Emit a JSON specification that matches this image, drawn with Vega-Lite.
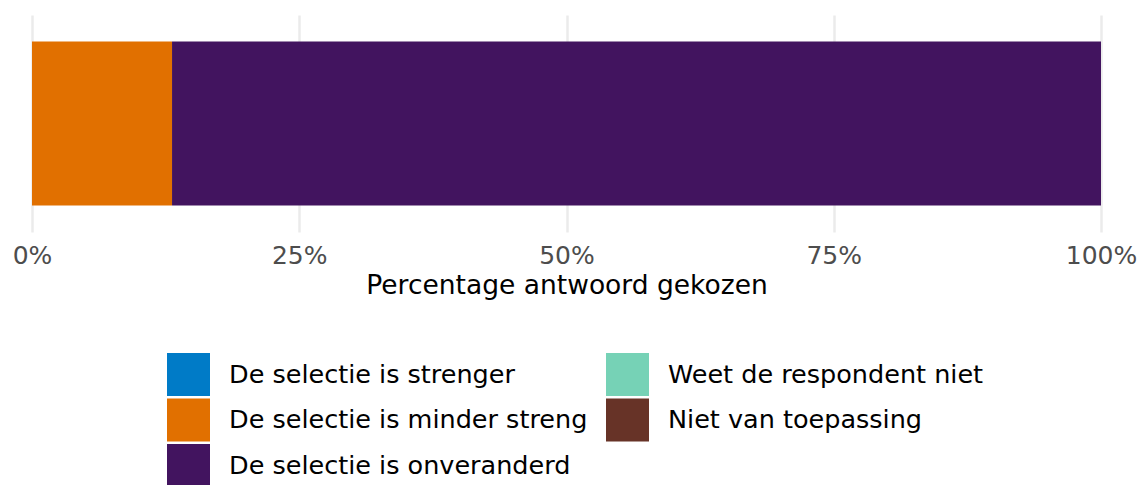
{
  "$schema": "https://vega.github.io/schema/vega-lite/v6.json",
  "width": 1069,
  "height": 217,
  "padding": {"left": 12, "top": 15, "right": 0, "bottom": 0},
  "autosize": {"type": "pad"},
  "background": "white",
  "config": {
    "font": "DejaVu Sans",
    "view": {"stroke": null}
  },
  "data": {
    "values": [
      {"vraag": "q", "antwoord": "De selectie is minder streng", "pct": 0.131, "volgorde": 2},
      {"vraag": "q", "antwoord": "De selectie is onveranderd", "pct": 0.869, "volgorde": 3}
    ]
  },
  "mark": {"type": "bar", "size": 164},
  "encoding": {
    "y": {"field": "vraag", "type": "nominal", "axis": null},
    "x": {
      "field": "pct",
      "type": "quantitative",
      "stack": "zero",
      "scale": {"domain": [0, 1], "nice": false},
      "axis": {
        "format": "%",
        "values": [0, 0.25, 0.5, 0.75, 1],
        "title": "Percentage antwoord gekozen",
        "titleFontSize": 26.5,
        "titleFontWeight": "normal",
        "titleColor": "#000000",
        "titlePadding": 4,
        "labelFontSize": 25,
        "labelColor": "#4d4d4d",
        "labelPadding": 11,
        "domain": false,
        "ticks": false,
        "grid": true,
        "gridColor": "#ebebeb",
        "gridWidth": 2.5,
        "labelFlush": false
      }
    },
    "order": {"field": "volgorde", "type": "quantitative"},
    "color": {
      "field": "antwoord",
      "type": "nominal",
      "scale": {
        "domain": ["De selectie is strenger", "Weet de respondent niet", "De selectie is minder streng", "Niet van toepassing", "De selectie is onveranderd"],
        "range": ["#007BC7", "#76D2B6", "#E17000", "#673327", "#42145F"]
      },
      "legend": {
        "title": null,
        "orient": "none",
        "legendX": 135,
        "legendY": 338,
        "direction": "horizontal",
        "columns": 2,
        "symbolType": "square",
        "symbolSize": 1849,
        "symbolStrokeWidth": 0,
        "symbolOpacity": 1,
        "labelFontSize": 25.5,
        "labelColor": "#000000",
        "labelOffset": 19,
        "rowPadding": 2.5,
        "columnPadding": 18,
        "labelLimit": 500
      }
    }
  }
}
